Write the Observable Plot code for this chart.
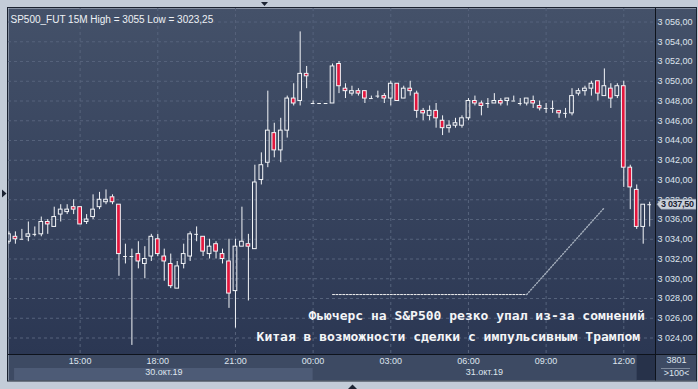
<!DOCTYPE html>
<html><head><meta charset="utf-8">
<script src="https://cdn.jsdelivr.net/npm/d3@7"></script>
<script src="https://cdn.jsdelivr.net/npm/@observablehq/plot@0.6"></script>
<style>
html,body{margin:0;padding:0;background:#c3ccd8;}
#chart svg{display:block;}
</style></head><body><div id="chart"></div>
<script>
// ---------- data ----------
const symbolTitle = "SP500_FUT 15M High = 3055 Low = 3023,25";
const firstBarTime = "2019-10-30T12:15:00Z";
const barMinutes = 15;
const open = [3033.75,3034.25,3034.0,3034.25,3034.5,3034.5,3035.75,3035.25,3036.5,3036.75,
  3037.25,3037.25,3035.75,3036.25,3037.25,3037.75,3038.25,3037.5,3032.25,3032.25,
  3032.5,3031.5,3032.25,3034.0,3032.25,3031.5,3029.0,3031.5,3032.25,3034.5,
  3034.25,3032.5,3033.5,3032.5,3031.75,3028.75,3033.25,3033.5,3033.0,3040.0,
  3041.75,3044.75,3043.0,3045.0,3048.25,3048.0,3050.75,3047.75,3047.75,3047.75,
  3047.75,3051.75,3049.25,3048.75,3049.0,3049.0,3048.25,3048.5,3048.5,3048.25,
  3049.75,3048.25,3049.25,3048.75,3047.0,3046.5,3047.0,3046.0,3045.25,3045.5,
  3045.5,3046.25,3048.0,3047.75,3047.75,3047.75,3048.0,3048.0,3048.0,3047.75,
  3047.75,3048.0,3047.5,3047.25,3047.25,3047.0,3046.75,3046.75,3048.75,3049.0,
  3049.25,3050.0,3048.5,3049.25,3048.5,3049.5,3041.25,3039.0,3035.25,3037.5];
const high = [3034.75,3034.75,3035.0,3035.75,3035.25,3036.25,3036.0,3037.25,3037.5,3037.5,
  3038.0,3037.25,3036.5,3038.5,3038.75,3039.0,3038.5,3037.5,3033.5,3033.0,
  3033.75,3033.25,3034.5,3034.5,3033.0,3032.5,3031.75,3033.5,3034.75,3035.25,
  3034.25,3034.0,3033.75,3033.0,3034.0,3034.0,3037.25,3034.5,3041.5,3042.75,
  3049.0,3045.75,3046.25,3048.5,3049.75,3055.0,3051.5,3048.0,3047.75,3047.75,
  3051.75,3052.0,3049.75,3049.5,3049.25,3049.0,3048.5,3049.0,3048.75,3050.0,
  3049.75,3049.5,3050.0,3049.0,3047.25,3047.5,3047.75,3046.5,3046.0,3046.25,
  3046.5,3048.25,3048.5,3048.0,3048.25,3048.75,3048.25,3048.25,3048.5,3048.25,
  3048.25,3048.5,3048.0,3047.75,3048.0,3047.0,3047.25,3049.25,3049.25,3049.5,
  3050.0,3050.0,3051.25,3049.75,3049.75,3050.0,3041.5,3039.5,3037.5,3037.75];
const low = [3033.5,3033.5,3034.0,3033.75,3034.25,3034.25,3034.5,3035.25,3035.75,3036.5,
  3036.5,3035.5,3035.5,3036.0,3037.0,3037.5,3037.5,3030.25,3031.5,3023.25,
  3031.0,3030.0,3031.75,3032.25,3029.75,3029.0,3029.0,3031.0,3031.75,3033.75,
  3032.25,3032.0,3032.0,3031.5,3027.0,3025.0,3033.25,3027.75,3033.0,3039.5,
  3041.25,3042.25,3041.75,3044.25,3047.5,3047.5,3049.25,3047.75,3047.75,3047.75,
  3047.75,3048.75,3048.25,3048.5,3048.5,3047.75,3048.25,3048.25,3047.75,3047.5,
  3048.0,3048.25,3048.5,3046.25,3046.0,3046.0,3045.25,3044.5,3044.75,3045.25,
  3045.25,3046.0,3047.5,3046.5,3047.25,3047.75,3047.5,3047.5,3048.0,3047.5,
  3047.5,3047.25,3047.0,3046.75,3046.75,3046.25,3046.25,3046.5,3048.5,3048.5,
  3048.5,3048.0,3048.5,3047.25,3048.25,3039.25,3037.0,3035.0,3033.5,3035.25];
const close = [3034.5,3034.0,3034.0,3034.5,3034.5,3035.75,3035.5,3036.25,3037.0,3037.0,
  3037.0,3035.5,3036.0,3037.0,3038.0,3038.0,3037.75,3032.5,3032.25,3032.25,
  3031.75,3032.0,3034.25,3032.5,3031.75,3029.25,3031.25,3032.5,3034.5,3034.5,
  3032.75,3033.25,3032.75,3032.0,3028.5,3033.25,3033.75,3033.25,3039.75,3041.5,
  3045.0,3043.0,3045.0,3048.25,3047.75,3050.75,3050.5,3047.75,3047.75,3047.75,
  3051.5,3049.5,3049.0,3049.0,3048.75,3048.25,3048.25,3048.5,3048.25,3049.75,
  3048.0,3049.25,3049.0,3047.0,3046.75,3047.0,3046.25,3045.25,3045.5,3045.75,
  3046.25,3048.0,3047.75,3047.5,3047.75,3048.0,3047.75,3048.25,3048.0,3047.75,
  3048.25,3047.75,3047.25,3047.25,3047.25,3046.75,3046.75,3048.5,3049.0,3049.25,
  3049.75,3048.75,3049.5,3048.25,3049.5,3041.25,3039.25,3035.25,3037.5,3037.5];
const priceTicks = [3024,3026,3028,3030,3032,3034,3036,3038,3040,3042,3044,3046,3048,3050,3052,3054,3056];
const timeTickTimes = ["2019-10-30T15:00:00Z","2019-10-30T18:00:00Z","2019-10-30T21:00:00Z","2019-10-31T00:00:00Z",
  "2019-10-31T03:00:00Z","2019-10-31T06:00:00Z","2019-10-31T09:00:00Z","2019-10-31T12:00:00Z"];
const timeTickLabels = ["15:00","18:00","21:00","00:00","03:00","06:00","09:00","12:00"];
const dayLabels = ["30.окт.19","31.окт.19"];
const dayStarts = ["2019-10-30T12:28:00Z","2019-10-31T00:00:00Z"];
const dayEnds = ["2019-10-31T00:00:00Z","2019-10-31T13:13:30Z"];
const viewStart = "2019-10-30T12:14:00Z";
const viewEnd = "2019-10-31T13:13:30Z";
const futureStart = "2019-10-31T12:31:00Z";
const priceMin = 3022.33, priceMax = 3057.37;
const lastPrice = 3037.5;
const barCountLabel = "3801";
const zoomLabel = ">100<";
const noteLines = ["Фьючерс на S&P500 резко упал из-за сомнений","Китая в возможности сделки с импульсивным Трампом"];
const noteTimes = ["2019-10-30T23:49:00Z","2019-10-30T21:49:00Z"];
const notePrices = [3026.2, 3024.15];
const pointerTimes = ["2019-10-31T00:45:00Z","2019-10-31T08:15:00Z","2019-10-31T11:15:00Z"];
const pointerPrices = [3028.4, 3028.4, 3037.2];

// ---------- build ----------
const W = 698, H = 389, mL = 8, mR = 43, mT = 8, mB = 35;
const frameH = H - mT - mB;
const t0 = new Date(firstBarTime).getTime();
const halfBody = 4.3 * 60000;
const bars = open.map((o, i) => {
  const t = t0 + i * barMinutes * 60000;
  return {t: new Date(t), x1: new Date(t - halfBody), x2: new Date(t + halfBody),
    o, h: high[i], l: low[i], c: close[i],
    top: Math.max(o, close[i]), bot: Math.min(o, close[i])};
});
const bodies = bars.filter(d => d.o !== d.c);
const dojis = bars.filter(d => d.o === d.c);
const RED = "#e3163d", INK = "#f3f5f8", GRID = "#56637c", LABEL = "#dfe5ee";
const xEndDate = new Date(viewEnd);
const fmtPrice = v => { const s = v.toFixed(2).replace(".", ","); return s.slice(0,1) + " " + s.slice(1); };
const dayBands = dayLabels.map((label, i) => ({label, x1: new Date(dayStarts[i]), x2: new Date(dayEnds[i]), i}));
const pointer = pointerTimes.map((t, i) => ({t: new Date(t), p: pointerPrices[i]}));
const notes = noteLines.map((text, i) => ({text, t: new Date(noteTimes[i]), p: notePrices[i]}));

const plot = Plot.plot({
  width: W, height: H, marginLeft: mL, marginRight: mR, marginTop: mT, marginBottom: mB,
  style: {background: "#c3ccd8", fontFamily: "'Liberation Sans', Arial, sans-serif", overflow: "visible"},
  x: {type: "utc", domain: [new Date(viewStart), xEndDate], axis: null},
  y: {domain: [priceMin, priceMax], axis: null},
  marks: [
    Plot.frame({fill: "url(#bgGrad)", stroke: null, insetRight: -(mR - 2)}),
    Plot.frame({fill: "#3d4a63", stroke: null, insetTop: frameH, insetBottom: -(mB - 9), insetRight: -(mR - 2)}),
    Plot.rect(dayBands.filter(d => d.i === 0), {x1: "x1", x2: "x2", fill: "#4d5b76", insetTop: frameH + 14, insetBottom: -(mB - 9)}),
    Plot.rect([0], {x1: () => new Date(futureStart), x2: () => xEndDate, fill: "#27324a", insetTop: frameH + 1, insetBottom: -(mB - 9)}),
    Plot.ruleY(priceTicks, {stroke: GRID, strokeDasharray: "3,3"}),
    Plot.ruleX(timeTickTimes, {x: d => new Date(d), stroke: GRID, strokeDasharray: "3,3"}),
    // annotation pointer
    Plot.line(pointer.slice(0, 2), {x: "t", y: "p", stroke: "#f0f0f0", strokeDasharray: "2,1.4", strokeWidth: 1}),
    Plot.line(pointer.slice(1), {x: "t", y: "p", stroke: "#a3adbb", strokeDasharray: "1.2,1.8", strokeWidth: 1.4}),
    // candles
    Plot.ruleX(bars, {x: "t", y1: "top", y2: "h", stroke: INK, strokeWidth: 1, clip: "frame"}),
    Plot.ruleX(bars, {x: "t", y1: "l", y2: "bot", stroke: INK, strokeWidth: 1, clip: "frame"}),
    Plot.rect(bodies, {x1: "x1", x2: "x2", y1: "o", y2: "c", fill: d => d.c < d.o ? RED : "none", stroke: INK, strokeWidth: 1, clip: "frame"}),
    Plot.ruleY(dojis, {y: "o", x1: "x1", x2: "x2", stroke: INK, strokeWidth: 1, clip: "frame"}),
    // note text
    Plot.text(notes, {x: "t", y: "p", text: "text", textAnchor: "start", fill: "#f4f5f7", fontSize: 13, fontWeight: "bold", letterSpacing: "-0.2px", fontFamily: "'DejaVu Sans Mono', monospace"}),
    // title
    Plot.text([symbolTitle], {frameAnchor: "top-left", dx: 2, dy: 7, textAnchor: "start", fill: "#eef1f5", fontSize: 10, letterSpacing: "-0.45px"}),
    // right axis labels
    Plot.text(priceTicks, {x: () => xEndDate, y: d => d, text: fmtPrice, textAnchor: "start", dx: 2, fill: LABEL, fontSize: 9}),
    // bottom time labels
    Plot.text(timeTickTimes, {x: d => new Date(d), text: (d, i) => timeTickLabels[i], frameAnchor: "bottom", dy: 9, fill: LABEL, fontSize: 9}),
    Plot.text(dayBands, {x: d => new Date((d.x1.getTime() + d.x2.getTime()) / 2), text: "label", frameAnchor: "bottom", dy: 20, fill: LABEL, fontSize: 9}),
    Plot.text([barCountLabel], {x: () => xEndDate, frameAnchor: "bottom", dx: 21, dy: 8, fill: LABEL, fontSize: 9}),
    Plot.text([zoomLabel], {x: () => xEndDate, frameAnchor: "bottom", dx: 21, dy: 21, fill: LABEL, fontSize: 9})
  ]
});
document.getElementById("chart").appendChild(plot);

// ---------- chrome ----------
const svg = d3.select(plot);
const xs = plot.scale("x"), ys = plot.scale("y");
const L = xs.range[0], R = xs.range[1], T = ys.range[1], B = ys.range[0];
const outerR = W - 2, outerB = H - 8.5;
const defs = svg.insert("defs", ":first-child");
const g = defs.append("linearGradient").attr("id", "bgGrad").attr("gradientUnits", "userSpaceOnUse")
  .attr("x1", 0).attr("x2", 0).attr("y1", T).attr("y2", B);
g.append("stop").attr("offset", 0).attr("stop-color", "#445169");
g.append("stop").attr("offset", 1).attr("stop-color", "#2b3753");
const chrome = svg.append("g");
// price marker box
const py = ys.apply(lastPrice);
chrome.append("path").attr("d", `M${R+2},${py} L${R+6},${py-5} H${outerR} V${py+5} H${R+6} Z`)
  .attr("fill", "#c9d0da").attr("stroke", "#8c96a6").attr("stroke-width", 0.5);
chrome.append("text").attr("x", R + 6).attr("y", py).attr("dy", "0.34em").attr("text-anchor", "start")
  .attr("font-size", 9).attr("font-weight", "bold").attr("letter-spacing", "-0.3px").attr("fill", "#1c2433").text(fmtPrice(lastPrice));
// separators
chrome.append("line").attr("x1", L).attr("x2", outerR).attr("y1", B + 0.5).attr("y2", B + 0.5).attr("stroke", "#0e131c");
chrome.append("line").attr("x1", R + 0.5).attr("x2", R + 0.5).attr("y1", T).attr("y2", outerB).attr("stroke", "#0e131c");
chrome.append("line").attr("x1", R + 6).attr("x2", outerR - 6).attr("y1", B + 14.5).attr("y2", B + 14.5).attr("stroke", "#7d899c");
// border
chrome.append("rect").attr("x", L - 0.5).attr("y", T - 0.5).attr("width", outerR - L + 1).attr("height", outerB - T + 1)
  .attr("fill", "none").attr("stroke", "#1a2230");
// small arrows
chrome.append("path").attr("d", `M2,189.5 L6.5,193.5 L2,197.5 Z`).attr("fill", "#1c2433");
chrome.append("path").attr("d", `M261,2 L268,2 L264.5,6 Z`).attr("fill", "#1c2433");
chrome.append("path").attr("d", `M348,389 L357,389 L352.5,384.5 Z`).attr("fill", "#1c2433");
</script></body></html>
